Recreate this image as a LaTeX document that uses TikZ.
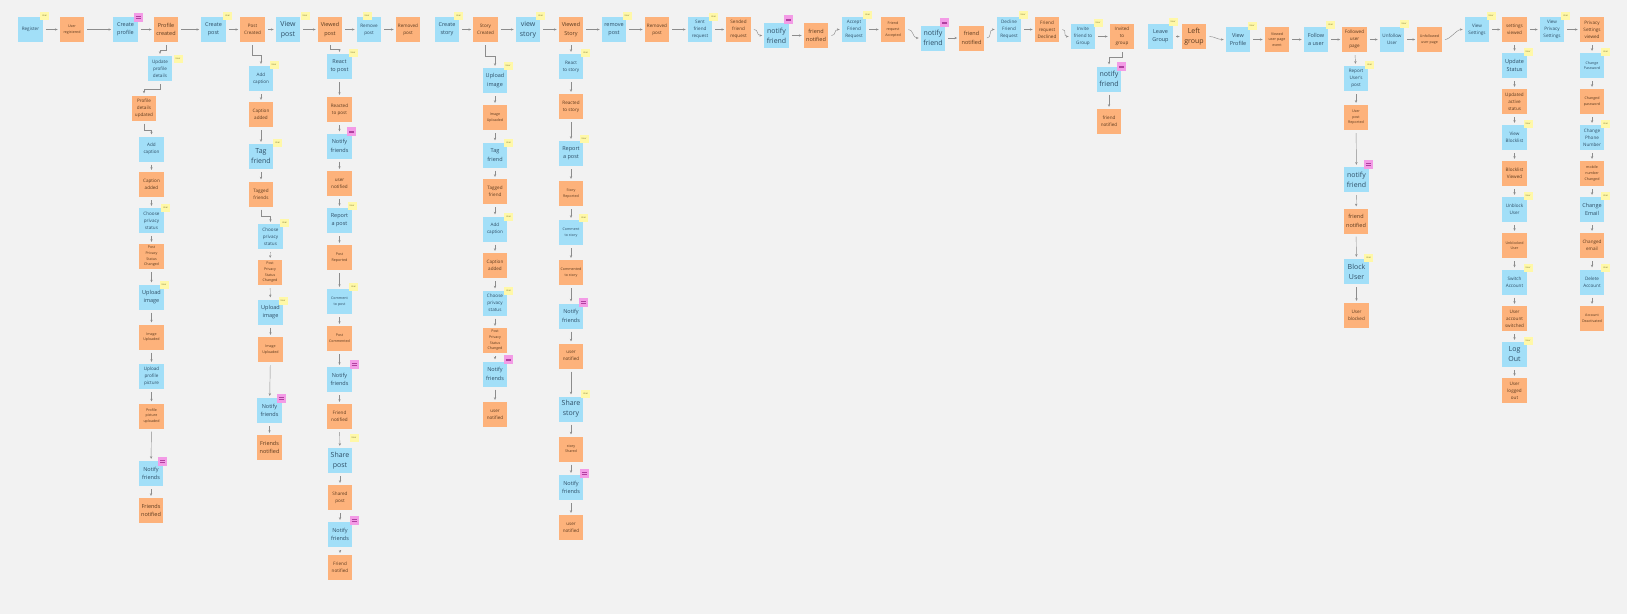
\documentclass[tikz,border=0pt]{standalone}
\usepackage{fontspec}
\setmainfont{Open Sans}
\usepackage{tikz}
\usetikzlibrary{arrows.meta,calc}
\usepackage{xcolor}
\definecolor{boardgray}{HTML}{F2F2F2}
\definecolor{cmdblue}{HTML}{A2DFF8}
\definecolor{cmdtext}{HTML}{2E4E66}
\definecolor{evtorange}{HTML}{FDB27B}
\definecolor{evttext}{HTML}{5C3A1E}
\definecolor{stickyyellow}{HTML}{FFF8A8}
\definecolor{actortext}{HTML}{6B6420}
\definecolor{policypink}{HTML}{F39BE6}
\definecolor{policyline}{HTML}{B0409F}
\definecolor{linkgray}{HTML}{8C8C8C}

\newcommand{\fsA}{\fontsize{3.6}{5.6}\selectfont}
\newcommand{\fsB}{\fontsize{4.6}{7}\selectfont}
\newcommand{\fsC}{\fontsize{5.5}{8.3}\selectfont}
\newcommand{\fsD}{\fontsize{7}{10}\selectfont}
\newcommand{\fsU}{\fontsize{2.2}{2.6}\selectfont}

\tikzset{
  sticky/.style={minimum width=24.5pt, minimum height=25pt, inner sep=0.5pt, align=center},
  cmd/.style={sticky, fill=cmdblue, text=cmdtext, font=\fsB},
  evt/.style={sticky, fill=evtorange, text=evttext, font=\fsB},
  actor/.style={fill=stickyyellow, text=actortext, minimum width=9pt, minimum height=8pt, inner sep=0pt, font=\fsU},
  policy/.style={fill=policypink, minimum width=9pt, minimum height=9pt, inner sep=0pt,
    path picture={\draw[policyline, line width=0.3pt]
      ($(path picture bounding box.center)+(-2.5,-0.8)$) -- ++(5,0)
      ($(path picture bounding box.center)+(-2.5,0.8)$) -- ++(5,0);}},
  flow/.style={draw=linkgray, line width=0.45pt, -{Stealth[length=2.6pt,width=2.4pt]}, shorten <=3pt, shorten >=2pt}
}

\begin{document}
\begin{tikzpicture}[x=1pt, y=-1pt]
        \fill[boardgray] (0,0) rectangle (1627,614);

        % main timeline
        \node[cmd] (reg) at (30.5,29.5) {Register};
        \node[evt, font=\fsA] (usrreg) at (72,29.5) {User\\registered};
        \node[cmd, font=\fsC] (crprof) at (125.5,29.5) {Create\\profile};
        \node[evt, font=\fsC] (profcr) at (166,29.5) {Profile\\created};
        \node[cmd, font=\fsC] (crpost) at (213.5,29.5) {Create\\post};
        \node[evt] (postcr) at (252.5,29.5) {Post\\Created};
        \node[cmd, font=\fsD] (vpost) at (288,29.5) {View\\post};
        \node[evt, font=\fsC] (vwpost) at (330,29.5) {Viewed\\post};
        \node[cmd] (rmpost) at (369,29.5) {Remove\\post};
        \node[evt] (rmdpost) at (408,29.5) {Removed\\post};
        \node[cmd, font=\fsC] (crstory) at (447,29.5) {Create\\story};
        \node[evt] (storycr) at (485.5,29.5) {Story\\Created};
        \node[cmd, font=\fsD] (vstory) at (528,29.5) {view\\story};
        \node[evt, font=\fsC] (vwstory) at (571,29.5) {Viewed\\Story};
        \node[cmd, font=\fsC] (rmpostb) at (614,29.5) {remove\\post};
        \node[evt] (rmdpostb) at (657,29.5) {Removed\\post};
        \node[cmd] (sendreq) at (700,29.5) {Sent\\friend\\request};
        \node[evt] (sentreq) at (738.5,29.5) {Sended\\friend\\request};
        \node[cmd, font=\fsD] (ntfa) at (776.5,35.5) {notify\\friend};
        \node[evt, font=\fsC] (ntfda) at (816,35.5) {friend\\notified};
        \node[cmd] (accreq) at (854,29.5) {Accept\\Friend\\Request};
        \node[evt, font=\fsA] (accd) at (893,29.5) {Friend\\request\\Accepted};
        \node[cmd, font=\fsD] (ntfb) at (933,38) {notify\\friend};
        \node[evt, font=\fsC] (ntfdb) at (971.5,38) {friend\\notified};
        \node[cmd] (decreq) at (1009,29.5) {Decline\\Friend\\Request};
        \node[evt] (decd) at (1047,29.5) {Friend\\request\\Declined};
        \node[cmd] (invite) at (1083,36.5) {Invite\\friend to\\Group};
        \node[evt] (invited) at (1122,36.5) {Invited\\to\\group};
        \node[cmd, font=\fsC] (leave) at (1160.5,36.5) {Leave\\Group};
        \node[evt, font=\fsD] (left) at (1194,36.5) {Left\\group};
        \node[cmd, font=\fsC] (vprof) at (1238,39.5) {View\\Profile};
        \node[evt, font=\fsA] (vwprof) at (1277,39.5) {Viewed\\user page\\event};
        \node[cmd, font=\fsC] (follow) at (1316,39.5) {Follow\\a user};
        \node[evt] (followed) at (1354.5,39.5) {Followed\\user\\page};
        \node[cmd] (unfollow) at (1392,39.5) {Unfollow\\User};
        \node[evt, font=\fsA] (unfollowed) at (1429.5,39.5) {Unfollowed\\user page};
        \node[cmd] (vset) at (1477,29.5) {View\\Settings};
        \node[evt] (setv) at (1514.5,29.5) {settings\\viewed};
        \node[cmd] (vpriv) at (1552,29.5) {View\\Privacy\\Settings};
        \node[evt] (privv) at (1592,29.5) {Privacy\\Settings\\viewed};

        % profile branch
        \node[cmd] (a1) at (160,68.5) {Update\\profile\\details};
        \node[evt] (a2) at (144,108) {Profile\\details\\updated};
        \node[cmd] (a3) at (151.5,149) {Add\\caption};
        \node[evt] (a4) at (151.5,184.5) {Caption\\added};
        \node[cmd] (a5) at (151.5,220.5) {Choose\\privacy\\status};
        \node[evt, font=\fsA] (a6) at (151.5,256.5) {Post\\Privacy\\Status\\Changed};
        \node[cmd, font=\fsC] (a7) at (151.5,297) {Upload\\image};
        \node[evt, font=\fsA] (a8) at (151.5,337) {Image\\Uploaded};
        \node[cmd] (a9) at (151.5,376.5) {Upload\\profile\\picture};
        \node[evt, font=\fsA] (a10) at (151.5,416) {Profile\\picture\\uploaded};
        \node[cmd, font=\fsC] (a11) at (151,473.5) {Notify\\friends};
        \node[evt, font=\fsC] (a12) at (151,510.5) {Friends\\notified};

        % post branch
        \node[cmd] (b1) at (261,78.5) {Add\\caption};
        \node[evt] (b2) at (261,114.5) {Caption\\added};
        \node[cmd, font=\fsD] (b3) at (261,156.5) {Tag\\friend};
        \node[evt] (b4) at (261,194) {Tagged\\friends};
        \node[cmd] (b5) at (270.5,236.5) {Choose\\privacy\\status};
        \node[evt, font=\fsA] (b6) at (270,272.5) {Post\\Privacy\\Status\\Changed};
        \node[cmd, font=\fsC] (b7) at (270.5,312) {Upload\\image};
        \node[evt, font=\fsA] (b8) at (270.5,349.5) {Image\\Uploaded};
        \node[cmd, font=\fsC] (b9) at (269.5,410.5) {Notify\\friends};
        \node[evt, font=\fsC] (b10) at (269.5,447.5) {Friends\\notified};

        % viewed post branch
        \node[cmd, font=\fsC] (c1) at (339.5,66.5) {React\\to post};
        \node[evt] (c2) at (339.5,109.5) {Reacted\\to post};
        \node[cmd, font=\fsC] (c3) at (339.5,146) {Notify\\friends};
        \node[evt] (c4) at (339.5,183.5) {user\\notified};
        \node[cmd, font=\fsC] (c5) at (339.5,220.5) {Report\\a post};
        \node[evt, font=\fsA] (c6) at (339.5,257.5) {Post\\Reported};
        \node[cmd, font=\fsA] (c7) at (339.5,301.5) {Comment\\to post};
        \node[evt, font=\fsA] (c8) at (339.5,338.5) {Post\\Commented};
        \node[cmd, font=\fsC] (c9) at (339.5,379.5) {Notify\\friends};
        \node[evt] (c10) at (339.5,416.5) {Friend\\notified};
        \node[cmd, font=\fsD] (c11) at (340,460.5) {Share\\post};
        \node[evt] (c12) at (340,497.5) {Shared\\post};
        \node[cmd, font=\fsC] (c13) at (340,534.5) {Notify\\friends};
        \node[evt] (c14) at (340,567.5) {Friend\\notified};

        % story branch
        \node[cmd, font=\fsC] (d1) at (495,80.5) {Upload\\image};
        \node[evt, font=\fsA] (d2) at (495,117.5) {Image\\Uploaded};
        \node[cmd, font=\fsC] (d3) at (495,155) {Tag\\friend};
        \node[evt] (d4) at (495,191.5) {Tagged\\friend};
        \node[cmd] (d5) at (495,229) {Add\\caption};
        \node[evt] (d6) at (495,265.5) {Caption\\added};
        \node[cmd] (d7) at (495,303) {Choose\\privacy\\status};
        \node[evt, font=\fsA] (d8) at (495,340.5) {Post\\Privacy\\Status\\Changed};
        \node[cmd, font=\fsC] (d9) at (495,374) {Notify\\friends};
        \node[evt] (d10) at (495,414.5) {user\\notified};

        % viewed story branch
        \node[cmd] (e1) at (571,66.5) {React\\to story};
        \node[evt] (e2) at (571,106.5) {Reacted\\to story};
        \node[cmd, font=\fsC] (e3) at (571,153.5) {Report\\a post};
        \node[evt, font=\fsA] (e4) at (571,193.5) {Story\\Reported};
        \node[cmd, font=\fsA] (e5) at (571,232.5) {Comment\\to story};
        \node[evt, font=\fsA] (e6) at (571,272.5) {Commented\\to story};
        \node[cmd, font=\fsC] (e7) at (571,316) {Notify\\friends};
        \node[evt] (e8) at (571,356) {user\\notified};
        \node[cmd, font=\fsD] (e9) at (571,409) {Share\\story};
        \node[evt, font=\fsA] (e10) at (571,449) {story\\Shared};
        \node[cmd, font=\fsC] (e11) at (571,487.5) {Notify\\friends};
        \node[evt] (e12) at (571,527.5) {user\\notified};

        % group branch
        \node[cmd, font=\fsD] (f1) at (1109,79) {notify\\friend};
        \node[evt] (f2) at (1109,121.5) {friend\\notified};

        % followed user branch
        \node[cmd] (g1) at (1356,78.5) {Report\\User's\\post};
        \node[evt, font=\fsA] (g2) at (1356,117.5) {User\\post\\Reported};
        \node[cmd, font=\fsD] (g3) at (1356.5,179.5) {notify\\friend};
        \node[evt, font=\fsC] (g4) at (1356,221) {friend\\notified};
        \node[cmd, font=\fsD] (g5) at (1356.5,271.5) {Block\\User};
        \node[evt] (g6) at (1356.5,315.5) {User\\blocked};

        % settings branch
        \node[cmd, font=\fsC] (h1) at (1514.5,65.5) {Update\\Status};
        \node[evt] (h2) at (1514.5,101.5) {Updated\\active\\status};
        \node[cmd] (h3) at (1514.5,137.5) {View\\Blocklist};
        \node[evt] (h4) at (1514.5,173.5) {Blocklist\\Viewed};
        \node[cmd] (h5) at (1514.5,209.5) {Unblock\\User};
        \node[evt, font=\fsA] (h6) at (1514.5,245.5) {Unblocked\\User};
        \node[cmd] (h7) at (1514.5,282) {Switch\\Account};
        \node[evt] (h8) at (1514.5,318.5) {User\\account\\switched};
        \node[cmd, font=\fsD] (h9) at (1514.5,354.5) {Log\\Out};
        \node[evt] (h10) at (1514.5,390.5) {User\\logged\\out};

        % privacy branch
        \node[cmd, font=\fsA] (k1) at (1592,65.5) {Change\\Password};
        \node[evt, font=\fsA] (k2) at (1592,101.5) {Changed\\password};
        \node[cmd] (k3) at (1592,137.5) {Change\\Phone\\Number};
        \node[evt, font=\fsA] (k4) at (1592,173.5) {mobile\\number\\Changed};
        \node[cmd, font=\fsC] (k5) at (1592,209.5) {Change\\Email};
        \node[evt] (k6) at (1592,245.5) {Changed\\email};
        \node[cmd] (k7) at (1592,282) {Delete\\Account};
        \node[evt, font=\fsA] (k8) at (1592,318.5) {Account\\Deactivated};

        % actors
        \node[actor] (u1) at (44.5,15.5) {User};
        \node[actor] (u2) at (227.5,16) {User};
        \node[actor] (u3) at (305,15.5) {User};
        \node[actor] (u4) at (367,15.5) {User};
        \node[actor] (u5) at (458.5,15.5) {User};
        \node[actor] (u6) at (540.5,15.5) {User};
        \node[actor] (u7) at (627,15.5) {User};
        \node[actor] (u8) at (713.5,17) {User};
        \node[actor] (u9) at (867.5,15) {User};
        \node[actor] (u10) at (1023,15) {User};
        \node[actor] (u11) at (1098,22.5) {User};
        \node[actor] (u12) at (1173,21.5) {User};
        \node[actor] (u13) at (1252,25.5) {User};
        \node[actor] (u14) at (1330.5,24.5) {User};
        \node[actor] (u15) at (1404,24) {User};
        \node[actor] (u16) at (1491,16) {User};
        \node[actor] (u17) at (1565.5,15.5) {User};
        \node[actor] (u18) at (178,59) {User};
        \node[actor] (u19) at (165.5,208) {User};
        \node[actor] (u20) at (164,285) {User};
        \node[actor] (u21) at (274,64.5) {User};
        \node[actor] (u22) at (277.5,142.5) {User};
        \node[actor] (u23) at (284.5,222.5) {User};
        \node[actor] (u24) at (283,300.5) {User};
        \node[actor] (u25) at (353,52.5) {User};
        \node[actor] (u26) at (352,206) {User};
        \node[actor] (u27) at (353.5,287) {User};
        \node[actor] (u28) at (354,438) {User};
        \node[actor] (u29) at (508,66) {User};
        \node[actor] (u30) at (508.5,142.5) {User};
        \node[actor] (u31) at (508.5,217) {User};
        \node[actor] (u32) at (508.5,291) {User};
        \node[actor] (u33) at (585.5,52.5) {User};
        \node[actor] (u34) at (584,139) {User};
        \node[actor] (u35) at (583.5,217.5) {User};
        \node[actor] (u36) at (585.5,393.5) {User};
        \node[actor] (u37) at (1369.5,65) {User};
        \node[actor] (u38) at (1368.5,257.5) {User};
        \foreach \y [count=\n] in {52,124,196,268} {
            \node[actor] (us\n) at (1528,\y) {User};
            \node[actor] (up\n) at (1605.5,\y) {User};
        }
        \node[actor] (us5) at (1528,340.5) {User};

        % policies
        \node[policy] (p1) at (138,17) {};
        \node[policy] (p2) at (162.5,461) {};
        \node[policy] (p3) at (281,398) {};
        \node[policy] (p4) at (351.5,131.5) {};
        \node[policy] (p5) at (354,364) {};
        \node[policy] (p6) at (354,520) {};
        \node[policy] (p7) at (508,359.5) {};
        \node[policy] (p8) at (583,302) {};
        \node[policy] (p9) at (584,473) {};
        \node[policy] (p10) at (788.5,19.5) {};
        \node[policy] (p11) at (944.5,22.5) {};
        \node[policy] (p12) at (1121.5,66.5) {};
        \node[policy] (p13) at (1368.5,164) {};

        % connectors along the timeline
        \foreach \a/\b in {reg/usrreg, usrreg/crprof, crprof/profcr, profcr/crpost, crpost/postcr,
            postcr/vpost, vpost/vwpost, vwpost/rmpost, rmpost/rmdpost, crstory/storycr,
            storycr/vstory, vstory/vwstory, vwstory/rmpostb, rmpostb/rmdpostb, rmdpostb/sendreq,
            sendreq/sentreq, ntfa/ntfda, accreq/accd, ntfb/ntfdb, decreq/decd, invite/invited,
            leave/left, vprof/vwprof, vwprof/follow, follow/followed, followed/unfollow,
            unfollow/unfollowed, vset/setv, setv/vpriv, vpriv/privv,
            vwstory/e1, followed/g1, setv/h1, privv/k1}
            \draw[flow] (\a) -- (\b);
        \foreach \a/\b in {sentreq/ntfa, ntfda/accreq, accd/ntfb, ntfdb/decreq, decd/invite,
            left/vprof, unfollowed/vset}
            \draw[flow] (\a.east) .. controls +(8,0) and +(-8,0) .. (\b.west);

        % elbows into the branches
        \draw[flow] (profcr.south) -- ++(0,8) -| (a1.north);
        \draw[flow] (a1.south) -- ++(0,8) -| (a2.north);
        \draw[flow] (a2.south) -- ++(0,10) -| (a3.north);
        \draw[flow] (postcr.south) -- ++(0,13) -| (b1.north);
        \draw[flow] (b4.south) -- ++(0,10) -| (b5.north);
        \draw[flow] (vwpost.south) -- ++(0,7) -| (c1.north);
        \draw[flow] (storycr.south) -- ++(0,14) -| (d1.north);
        \draw[flow] (invited.south) -- ++(0,8) -| (f1.north);

        % connectors down the branches
        \foreach \c/\s/\e in {a/3/12, b/1/4, b/5/10, c/1/14, d/1/10, e/1/12, f/1/2, g/1/6, h/1/10, k/1/8} {
            \pgfmathtruncatemacro{\last}{\e-1}
            \foreach \i [evaluate=\i as \j using int(\i+1)] in {\s,...,\last}
                \draw[flow] (\c\i) -- (\c\j);
        }
    \end{tikzpicture}
\end{document}
